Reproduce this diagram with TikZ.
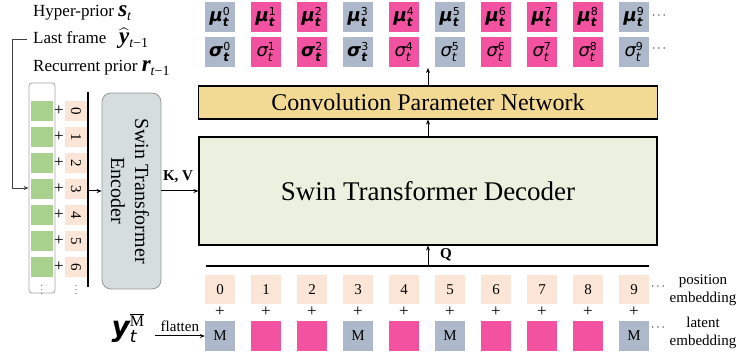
\documentclass[tikz,border=0pt]{standalone}
\usepackage{amsmath}
\usepackage{fontspec}
\setmainfont{Liberation Serif}
\newfontfamily\dvs{DejaVu Sans}
\usetikzlibrary{arrows.meta,calc}
\definecolor{tokgray}{RGB}{173,185,202}
\definecolor{tokpink}{RGB}{242,82,160}
\definecolor{peach}{RGB}{251,229,214}
\definecolor{leaf}{RGB}{169,209,142}
\definecolor{convy}{RGB}{243,218,148}
\definecolor{decg}{RGB}{235,241,222}
\definecolor{encg}{RGB}{213,222,220}
\newcommand{\fs}[1]{\fontsize{#1}{#1}\selectfont}
\newcommand{\mulab}[1]{$\mbox{\dvs\bfseries\itshape\fs{18}μ}^{\mbox{\dvs\fs{11}#1}}_{\mbox{\dvs\bfseries\itshape\fs{12}t}}$}
\newcommand{\sglabB}[1]{$\mbox{\dvs\bfseries\itshape\fs{18}σ}^{\mbox{\dvs\fs{11}#1}}_{\mbox{\dvs\bfseries\itshape\fs{12}t}}$}
\newcommand{\sglabN}[1]{$\mbox{\dvs\itshape\fs{18}σ}^{\mbox{\dvs\fs{11}#1}}_{\mbox{\dvs\itshape\fs{12}t}}$}
\newcommand{\bmi}[1]{{\bfseries\itshape\fs{23}#1}}
\newcommand{\subt}[1]{\raisebox{-4pt}{\fs{14}\itshape #1}}
\begin{document}
\begin{tikzpicture}[x=1pt,y=-1pt,>={Stealth[length=5pt,width=4pt]},
  tokbox/.style={minimum width=30pt,minimum height=30pt,inner sep=0pt,font=\fs{18}},
  posbox/.style={fill=peach,minimum width=30pt,minimum height=29pt,inner sep=0pt,font=\fs{15}},
  latbox/.style={minimum width=30pt,minimum height=30pt,inner sep=0pt,font=\fs{15}},
  sqbox/.style={minimum width=22pt,minimum height=20pt,inner sep=0pt},
  connline/.style={->,line width=1pt},
  barline/.style={line width=1.6pt},
  toplbl/.style={font=\fs{17},inner sep=0pt}]
\useasboundingbox (0,0) rectangle (740,358);

% top labels
\node[toplbl,anchor=base west] (hyp) at (33,17) {Hyper-prior \bmi{s}\subt{t}};
\node[toplbl,anchor=base west] (last) at (33,44) {Last frame \ \ $\widehat{\mbox{\bmi{y}}}$\subt{t\upshape −1}};
\node[toplbl,anchor=base west] (rec) at (33,72) {Recurrent prior \bmi{r}\subt{t\upshape −1}};

% mu / sigma tokens
\foreach \i/\c/\b in {0/tokgray/1,1/tokpink/0,2/tokpink/1,3/tokgray/1,4/tokpink/0,5/tokgray/0,6/tokpink/0,7/tokpink/0,8/tokpink/0,9/tokgray/0}{
  \node[tokbox,fill=\c] (mu\i) at (220+46*\i,17) {\mulab{\i}};
  \node[tokbox,fill=\c] (sg\i) at (220+46*\i,52) {\ifnum\b=1 \sglabB{\i}\else\sglabN{\i}\fi};
}
\node[font=\fs{12},inner sep=0pt] (mudots) at (660,16) {$\cdots$};
\node[font=\fs{12},inner sep=0pt] (sgdots) at (660,49) {$\cdots$};

% conv parameter network and decoder
\node[draw,line width=1.2pt,fill=convy,minimum width=459pt,minimum height=33pt,inner sep=0pt,font=\fs{24}] (conv) at (428,102.5) {Convolution Parameter Network};
\node[draw,line width=1.2pt,fill=decg,minimum width=458pt,minimum height=108pt,inner sep=0pt,font=\fs{27}] (dec) at (428,191) {Swin Transformer Decoder};
\coordinate (topend) at (428,68);
\draw[connline] (dec.north) -- (conv.south);
\draw[connline] (conv.north) -- (topend);

% left column
\node[draw=gray!70,rounded corners=3pt,minimum width=26pt,minimum height=210pt,line width=0.8pt] (col) at (42,188) {};
\foreach \k in {0,...,6}{
  \node[sqbox,fill=leaf] (g\k) at (42,111+26*\k) {};
  \node[font=\fs{17},inner sep=0pt] (pl\k) at (59,111+26*\k) {+};
  \node[fill=peach,minimum width=20pt,minimum height=22pt,inner sep=0pt,rotate=-90,font=\fs{15}] (p\k) at (76,111+26*\k) {\k};
}
\node[font=\fs{8},inner sep=0pt] (cdots1) at (42,287) {$\vdots$};
\node[font=\fs{8},inner sep=0pt] (cdots2) at (76,287) {$\vdots$};

% feedback line from last frame
\coordinate (fbstart) at (27,39);
\coordinate (fbcorner) at (12,39);
\draw[->,line width=0.8pt,black!75] (fbstart) -- (fbcorner) |- (col.west);

% bar and encoder
\coordinate (bartop) at (88,92);
\coordinate (barbot) at (88,287);
\coordinate (barmid) at (88,191);
\draw[barline] (bartop) -- (barbot);
\node[draw=gray!80,fill=encg,rounded corners=9pt,minimum width=59pt,minimum height=196pt,line width=0.8pt] (enc) at (131.5,191) {};
\node[rotate=-90,align=center,font=\fontsize{20}{24}\selectfont] (enclbl) at (130,191) {Swin Transformer\\Encoder};
\draw[connline] (barmid) -- (enc.west);
\draw[connline] (enc.east) -- (dec.west);
\node[font=\bfseries\fs{15}] (kv) at (178,177) {K, V};

% query line
\coordinate (ql) at (206,266);
\coordinate (qr) at (649,266);
\coordinate (qmid) at (428,266);
\draw[barline] (ql) -- (qr);
\draw[connline] (qmid) -- (dec.south);
\node[font=\bfseries\fs{15}] (qlbl) at (446,255) {Q};

% bottom tokens
\foreach \i/\c/\m in {0/tokgray/M,1/tokpink/{},2/tokpink/{},3/tokgray/M,4/tokpink/{},5/tokgray/M,6/tokpink/{},7/tokpink/{},8/tokpink/{},9/tokgray/M}{
  \node[posbox] (pe\i) at (220+46*\i,289.5) {\i};
  \node[font=\fs{17},inner sep=0pt] (bp\i) at (220+46*\i,312) {+};
  \node[latbox,fill=\c] (lt\i) at (220+46*\i,336) {\m};
}
\node[font=\fs{12},inner sep=0pt] (pedots) at (659,287) {$\cdots$};
\node[font=\fs{12},inner sep=0pt] (ltdots) at (659,328) {$\cdots$};
\node[align=center,font=\fontsize{15}{18.5}\selectfont] (poslbl) at (703,290) {position\\embedding};
\node[align=center,font=\fontsize{15}{18.5}\selectfont] (latlbl) at (703,333) {latent\\embedding};

% y_t^M and flatten
\node[inner sep=0pt,font=\fs{26}] (ylab) at (128,328) {$\mbox{\dvs\bfseries\itshape\fs{28}y}^{\mbox{\fs{16}$\overline{\mbox{M}}$}}_{\mbox{\dvs\itshape\fs{17}t}}$};
\coordinate (flstart) at (155,336);
\draw[connline] (flstart) -- (lt0.west) node[midway,above=1pt,font=\fs{15}] (fllbl) {flatten};
\end{tikzpicture}
\end{document}
